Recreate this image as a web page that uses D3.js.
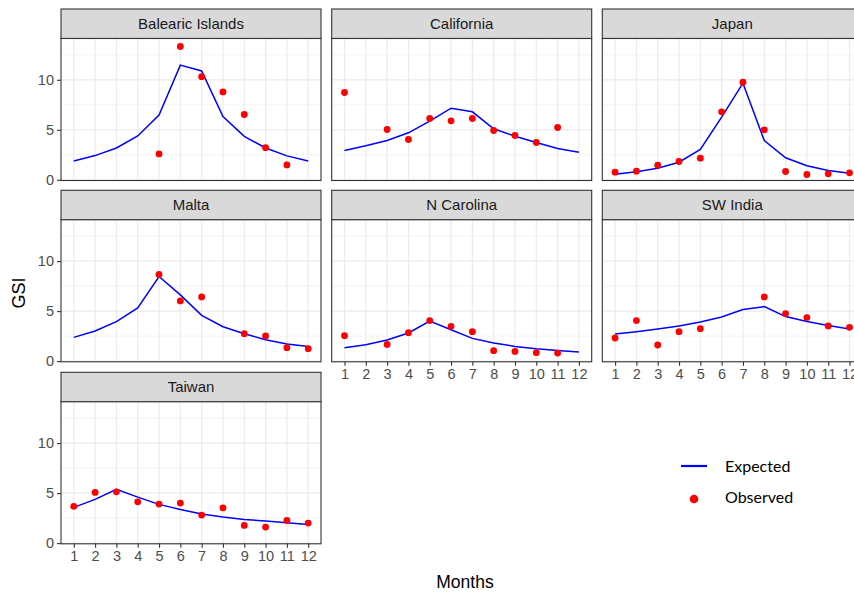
<!DOCTYPE html>
<html><head><meta charset="utf-8">
<script src="https://cdn.jsdelivr.net/npm/d3@7"></script>
<style>body{margin:0;background:#fff}svg{display:block}</style>
</head><body>
<svg id="c" width="854" height="593"></svg>
<script>
const months = [1,2,3,4,5,6,7,8,9,10,11,12];
const regions = ["Balearic Islands","California","Japan","Malta","N Carolina","SW India","Taiwan"];
const yTicks = [0,5,10];
const yMinor = [2.5,7.5,12.5];

// Expected (line) per region, months 1..12
const expBalearic = [1.89,2.42,3.18,4.38,6.47,11.47,10.88,6.33,4.34,3.18,2.39,1.89];
const expCalifornia = [2.93,3.40,3.93,4.70,5.86,7.16,6.80,5.10,4.36,3.73,3.13,2.76];
const expJapan = [0.56,0.80,1.16,1.76,3.03,6.26,9.66,3.93,2.20,1.40,0.93,0.66];
const expMalta = [2.37,3.01,3.95,5.32,8.46,6.62,4.58,3.44,2.74,2.14,1.71,1.47];
const expNCarolina = [1.34,1.64,2.11,2.81,4.01,3.14,2.27,1.81,1.47,1.24,1.07,0.90];
const expSWIndia = [2.71,2.94,3.21,3.51,3.91,4.41,5.15,5.45,4.45,3.95,3.55,3.21];
const expTaiwan = [3.57,4.37,5.37,4.60,3.87,3.37,2.90,2.60,2.37,2.20,2.03,1.87];

// Observed (points) per region, null = missing
const obsBalearic = [null,null,null,null,2.59,13.33,10.31,8.79,6.53,3.21,1.49,null];
const obsCalifornia = [8.73,null,5.03,4.03,6.13,5.90,6.13,4.93,4.43,3.73,5.23,null];
const obsJapan = [0.76,0.86,1.46,1.83,2.16,6.80,9.76,5.00,0.83,0.53,0.60,0.70];
const obsMalta = [null,null,null,null,8.66,6.02,6.42,null,2.74,2.51,1.34,1.24];
const obsNCarolina = [2.54,null,1.67,2.84,4.05,3.48,2.94,1.04,0.97,0.84,0.80,null];
const obsSWIndia = [2.31,4.05,1.61,2.94,3.24,null,null,6.42,4.75,4.35,3.51,3.38];
const obsTaiwan = [3.67,5.07,5.13,4.13,3.90,4.00,2.80,3.53,1.77,1.60,2.27,2.00];

const expected = [expBalearic,expCalifornia,expJapan,expMalta,expNCarolina,expSWIndia,expTaiwan];
const observed = [obsBalearic,obsCalifornia,obsJapan,obsMalta,obsNCarolina,obsSWIndia,obsTaiwan];

const svg = d3.select("#c");
const font = "'Liberation Sans', Arial, sans-serif";
const colX = [61, 331.7, 602.3];
const rowY = [9, 190.3, 372.3];
const panelW = 260, stripH = 29.5, plotH = 142;
const nrow = 3;

const x = d3.scalePoint().domain(months).range([0, panelW]).padding(0.6);
const y = d3.scaleLinear().domain([-0.07, 14.13]).range([plotH, 0]);

regions.forEach((name, i) => {
  const c = i % 3, r = Math.floor(i / 3);
  const g = svg.append("g").attr("transform", `translate(${colX[c]},${rowY[r]})`);
  // strip
  g.append("rect").attr("x",0).attr("y",0).attr("width",panelW).attr("height",stripH)
    .attr("fill","#d9d9d9").attr("stroke","#333333").attr("stroke-width",1.1);
  g.append("text").attr("x",panelW/2).attr("y",stripH/2+5.3).attr("text-anchor","middle")
    .attr("font-family",font).attr("font-size",15).attr("fill","#1a1a1a").text(name);
  const p = g.append("g").attr("transform",`translate(0,${stripH})`);
  p.append("rect").attr("width",panelW).attr("height",plotH).attr("fill","#fff");
  // grid
  p.selectAll(".ymin").data(yMinor).enter().append("line")
    .attr("x1",0).attr("x2",panelW).attr("y1",d=>y(d)).attr("y2",d=>y(d))
    .attr("stroke","#ebebeb").attr("stroke-width",0.6);
  p.selectAll(".ymaj").data(yTicks).enter().append("line")
    .attr("x1",0).attr("x2",panelW).attr("y1",d=>y(d)).attr("y2",d=>y(d))
    .attr("stroke","#ebebeb").attr("stroke-width",1.2);
  p.selectAll(".xmaj").data(months).enter().append("line")
    .attr("x1",d=>x(d)).attr("x2",d=>x(d)).attr("y1",0).attr("y2",plotH)
    .attr("stroke","#ebebeb").attr("stroke-width",1.2);
  // line
  const line = d3.line().x((d,j)=>x(months[j])).y(d=>y(d));
  p.append("path").datum(expected[i]).attr("d",line).attr("fill","none")
    .attr("stroke","#0000ff").attr("stroke-width",1.5);
  // points
  const pts = observed[i].map((v,j)=>({m:months[j],v})).filter(d=>d.v!==null);
  p.selectAll(".pt").data(pts).enter().append("circle")
    .attr("cx",d=>x(d.m)).attr("cy",d=>y(d.v)).attr("r",3.4).attr("fill","#ff0000");
  p.append("rect").attr("width",panelW).attr("height",plotH).attr("fill","none")
    .attr("stroke","#333333").attr("stroke-width",1.1);
  // axes
  if (c === 0) {
    const ay = p.append("g").call(d3.axisLeft(y).tickValues(yTicks).tickSize(4).tickPadding(3));
    ay.select(".domain").remove();
    ay.selectAll("line").attr("stroke","#333333").attr("stroke-width",1.1);
    ay.selectAll("text").attr("font-family",font).attr("font-size",14.5).attr("fill","#4d4d4d");
  }
  const below = i + 3;
  if (below >= regions.length) {
    const ax = p.append("g").attr("transform",`translate(0,${plotH})`)
      .call(d3.axisBottom(x).tickSize(4).tickPadding(3));
    ax.select(".domain").remove();
    ax.selectAll("line").attr("stroke","#333333").attr("stroke-width",1.1);
    ax.selectAll("text").attr("font-family",font).attr("font-size",14.5).attr("fill","#4d4d4d");
  }
});

// axis titles
svg.append("text").attr("transform","translate(25,293) rotate(-90)").attr("text-anchor","middle")
  .attr("font-family",font).attr("font-size",18).attr("fill","#000").text("GSI");
svg.append("text").attr("x",465).attr("y",588).attr("text-anchor","middle")
  .attr("font-family",font).attr("font-size",17.5).attr("fill","#000").text("Months");

// legend
const lg = svg.append("g");
const legendFont = "Lato, 'Open Sans', sans-serif";
lg.append("line").attr("x1",681).attr("x2",707).attr("y1",466).attr("y2",466)
  .attr("stroke","#0000ff").attr("stroke-width",2.2);
lg.append("circle").attr("cx",694).attr("cy",499).attr("r",4.3).attr("fill","#ff0000");
lg.append("text").attr("x",725).attr("y",471.7).attr("font-family",legendFont).attr("font-size",16)
  .attr("fill","#000").text("Expected");
lg.append("text").attr("x",725).attr("y",503.3).attr("font-family",legendFont).attr("font-size",16)
  .attr("fill","#000").text("Observed");
</script>
</body></html>
